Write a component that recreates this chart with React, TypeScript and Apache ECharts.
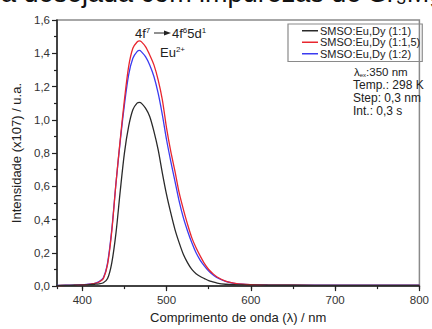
import React, { useEffect, useRef } from "react";
import * as echarts from "echarts";

const wavelengths = [370, 380, 390, 400, 405, 410, 415, 420, 425, 430, 435, 440, 445, 450, 455, 460, 465, 468, 470, 475, 480, 485, 490, 495, 500, 505, 510, 515, 520, 525, 530, 535, 540, 545, 550, 555, 560, 570, 580, 590, 600, 620, 650, 700, 750, 800];

const black11 = [0.003, 0.004, 0.005, 0.006, 0.007, 0.009, 0.011, 0.014, 0.02, 0.045, 0.14, 0.32, 0.57, 0.80, 0.96, 1.06, 1.10, 1.105, 1.10, 1.07, 1.02, 0.93, 0.82, 0.68, 0.55, 0.44, 0.34, 0.26, 0.19, 0.14, 0.10, 0.075, 0.058, 0.045, 0.033, 0.025, 0.018, 0.011, 0.008, 0.007, 0.006, 0.005, 0.005, 0.004, 0.004, 0.004];

const red115 = [0.003, 0.004, 0.005, 0.007, 0.009, 0.012, 0.016, 0.025, 0.045, 0.13, 0.33, 0.62, 0.88, 1.12, 1.32, 1.43, 1.468, 1.475, 1.47, 1.44, 1.39, 1.33, 1.24, 1.12, 0.95, 0.81, 0.69, 0.56, 0.46, 0.37, 0.29, 0.23, 0.18, 0.135, 0.10, 0.075, 0.055, 0.03, 0.018, 0.011, 0.008, 0.006, 0.005, 0.004, 0.004, 0.004];

const blue12 = [0.004, 0.005, 0.006, 0.008, 0.010, 0.013, 0.017, 0.027, 0.05, 0.14, 0.34, 0.62, 0.87, 1.09, 1.27, 1.37, 1.41, 1.417, 1.41, 1.38, 1.33, 1.26, 1.16, 1.03, 0.88, 0.75, 0.63, 0.51, 0.41, 0.33, 0.26, 0.20, 0.155, 0.12, 0.09, 0.068, 0.05, 0.028, 0.017, 0.011, 0.009, 0.007, 0.006, 0.005, 0.005, 0.005];

const seriesNames = ["SMSO:Eu,Dy (1:1)", "SMSO:Eu,Dy (1:1,5)", "SMSO:Eu,Dy (1:2)"];
const seriesColors = ["#2a2a2a", "#e8262e", "#3b3bf0"];
const conditions = ["Temp.: 298 K", "Step: 0,3 nm", "Int.: 0,3 s"];

const FONT = "Arial, 'Liberation Sans', Helvetica, sans-serif";

export default function App() {
  const ref = useRef<HTMLDivElement>(null);
  useEffect(() => {
    if (!ref.current) return;
    const chart = echarts.init(ref.current, undefined, { renderer: "svg" });
    const pairs = (ys: number[]) => wavelengths.map((x, i) => [x, ys[i]]);
    const allSeries = [black11, red115, blue12];
    chart.setOption({
      animation: false,
      textStyle: { fontFamily: FONT },
      grid: {
        left: 57,
        right: 8,
        top: 20,
        bottom: 41,
        show: true,
        borderColor: "#8a8a8a",
        borderWidth: 1.5,
        backgroundColor: "transparent",
      },
      legend: {
        orient: "vertical",
        left: 288,
        top: 24,
        padding: [1, 2, 2, 14],
        itemGap: 0,
        itemWidth: 16,
        itemHeight: 1.5,
        icon: "rect",
        borderColor: "#8a8a8a",
        borderWidth: 1.2,
        data: seriesNames,
        textStyle: { fontSize: 11, color: "#222", fontFamily: FONT, lineHeight: 11.5, padding: [0, 0, 0, -3] },
      },
      xAxis: [
        {
          type: "value",
          min: 370,
          max: 800,
          splitNumber: 5,
          position: "bottom",
          name: "Comprimento de onda (\u03bb) / nm",
          nameLocation: "middle",
          nameGap: 19,
          nameTextStyle: { fontSize: 13, color: "#222", fontFamily: FONT },
          axisLine: { show: true, onZero: false, lineStyle: { color: "#222", width: 1.5 } },
          axisTick: { show: true, inside: false, length: 5, lineStyle: { color: "#222", width: 1.2 } },
          axisLabel: { showMinLabel: false, fontSize: 11.5, color: "#333", margin: 8, fontFamily: FONT },
          splitLine: { show: false },
        },
        {
          type: "value",
          min: 370,
          max: 800,
          splitNumber: 9,
          position: "bottom",
          axisLine: { show: false },
          axisTick: { show: true, inside: false, length: 3, lineStyle: { color: "#222", width: 1.2 } },
          axisLabel: { show: false },
          splitLine: { show: false },
        },
      ],
      yAxis: {
        type: "value",
        min: 0,
        max: 1.6,
        interval: 0.2,
        name: "Intensidade (x107) / u.a.",
        nameLocation: "middle",
        nameGap: 30,
        nameTextStyle: { fontSize: 13, color: "#222", fontFamily: FONT },
        axisLine: { show: true, onZero: false, lineStyle: { color: "#222", width: 1.5 } },
        axisTick: { show: true, inside: false, length: 5, lineStyle: { color: "#222", width: 1.2 } },
        minorTick: { show: true, splitNumber: 2, length: 3, lineStyle: { color: "#222", width: 1.2 } },
        axisLabel: {
          fontSize: 11.5,
          color: "#333",
          margin: 7,
          fontFamily: FONT,
          formatter: (v: number) => v.toFixed(1).replace(".", ","),
        },
        splitLine: { show: false },
      },
      series: allSeries.map((ys, i) => ({
        name: seriesNames[i],
        type: "line",
        xAxisIndex: 0,
        data: pairs(ys),
        smooth: 0.3,
        showSymbol: false,
        symbol: "none",
        color: seriesColors[i],
        lineStyle: { color: seriesColors[i], width: 1.3 },
        z: 3 - i,
      })),
      graphic: [
        {
          type: "text",
          x: 1,
          y: -7,
          style: {
            text: "a desejada com impurezas de Sr\u2083Mg",
            font: `27px ${FONT}`,
            fill: "#111",
            verticalAlign: "middle",
            align: "left",
          },
        },
        {
          type: "text",
          x: 135,
          y: 33,
          style: {
            text: "4f{sup|7}",
            font: `13px ${FONT}`,
            fill: "#222",
            verticalAlign: "middle",
            rich: { sup: { fontSize: 8, verticalAlign: "top", lineHeight: 8, fill: "#222", fontFamily: FONT } },
          },
        },
        {
          type: "line",
          shape: { x1: 154, y1: 33, x2: 166, y2: 33 },
          style: { stroke: "#222", lineWidth: 1 },
        },
        {
          type: "polygon",
          shape: { points: [[164, 30.5], [171, 33], [164, 35.5]] },
          style: { fill: "#222" },
        },
        {
          type: "text",
          x: 172,
          y: 33,
          style: {
            text: "4f{sup|6}5d{sup|1}",
            font: `13px ${FONT}`,
            fill: "#222",
            verticalAlign: "middle",
            rich: { sup: { fontSize: 8, verticalAlign: "top", lineHeight: 8, fill: "#222", fontFamily: FONT } },
          },
        },
        {
          type: "text",
          x: 160,
          y: 52,
          style: {
            text: "Eu{sup|2+}",
            font: `13px ${FONT}`,
            fill: "#222",
            verticalAlign: "middle",
            rich: { sup: { fontSize: 8, verticalAlign: "top", lineHeight: 8, fill: "#222", fontFamily: FONT } },
          },
        },
        {
          type: "text",
          x: 354,
          y: 72,
          style: {
            text: "\u03bb{sub|ex}:350 nm",
            font: `11.5px ${FONT}`,
            fill: "#222",
            verticalAlign: "middle",
            rich: { sub: { fontSize: 6, verticalAlign: "bottom", lineHeight: 6, fill: "#222", fontFamily: FONT } },
          },
        },
        ...conditions.map((t, i) => ({
          type: "text",
          x: 353,
          y: 85 + i * 13,
          style: { text: t, font: `12px ${FONT}`, fill: "#222", verticalAlign: "middle" },
        })),
      ],
    });
    return () => chart.dispose();
  }, []);
  return <div ref={ref} style={{ width: 432, height: 329, position: "absolute", left: 0, top: 0 }} />;
}
